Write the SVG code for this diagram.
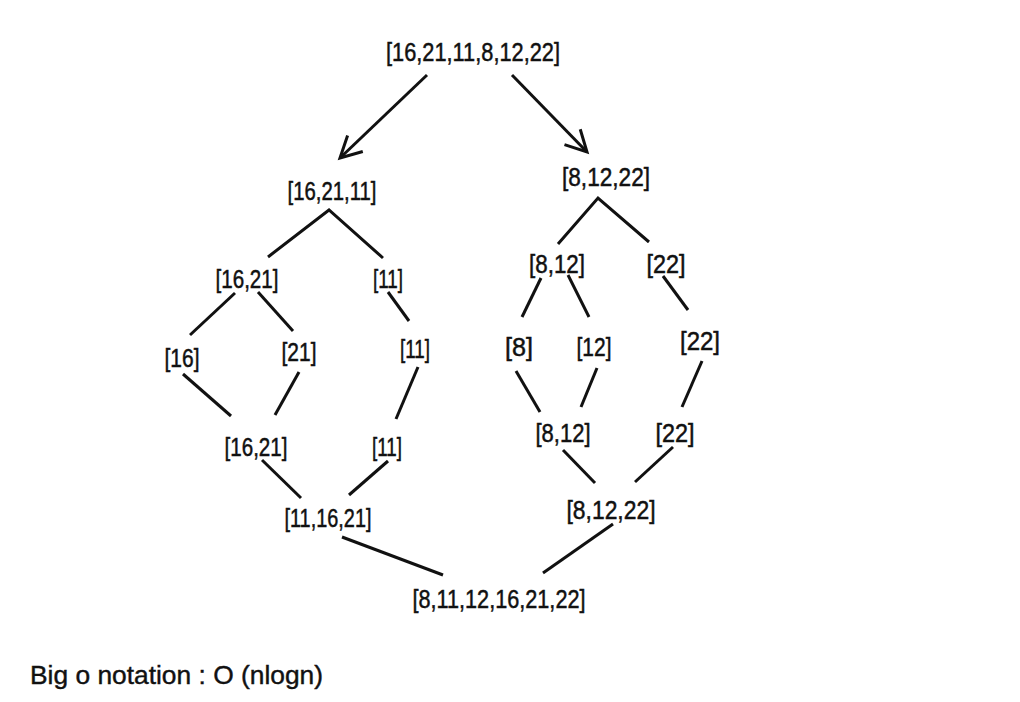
<svg xmlns="http://www.w3.org/2000/svg" width="1020" height="702" viewBox="0 0 1020 702">
<style>
  .lbl { font-family: "Liberation Sans", Arial, sans-serif; font-size: 26px; fill: #111; stroke: #111; stroke-width: 0.5; text-anchor: middle; }
  .note { font-family: "Liberation Sans", Arial, sans-serif; font-size: 25px; fill: #111; stroke: #111; stroke-width: 0.4; }
  .edge { stroke: #111; stroke-width: 3; fill: none; stroke-linecap: butt; }
</style>
<defs>
  <marker id="open" markerUnits="userSpaceOnUse" markerWidth="30" markerHeight="30" viewBox="-25 -15 30 30" refX="0" refY="0" orient="auto" overflow="visible">
    <path d="M -21,-11 L 0,0 L -21,11" fill="none" stroke="#111" stroke-width="3"/>
  </marker>
</defs>
<rect width="1020" height="702" fill="#fff"/>
<g id="connectors">
  <line class="edge" x1="427" y1="75" x2="340" y2="158" marker-end="url(#open)"/>
  <line class="edge" x1="512" y1="75" x2="587" y2="152" marker-end="url(#open)"/>
  <polyline class="edge" points="268,257 329,210 383,258"/>
  <polyline class="edge" points="558,244 598,198 649,242"/>
  <line class="edge" x1="235" y1="293" x2="190" y2="335"/>
  <line class="edge" x1="258" y1="292" x2="293" y2="331"/>
  <line class="edge" x1="388" y1="292" x2="409" y2="321"/>
  <line class="edge" x1="183" y1="374" x2="231" y2="416"/>
  <line class="edge" x1="299" y1="372" x2="275" y2="415"/>
  <line class="edge" x1="418" y1="367" x2="396" y2="419"/>
  <line class="edge" x1="262" y1="460" x2="301" y2="498"/>
  <line class="edge" x1="388" y1="461" x2="349" y2="495"/>
  <line class="edge" x1="541" y1="278" x2="522" y2="317"/>
  <line class="edge" x1="568" y1="275" x2="589" y2="317"/>
  <line class="edge" x1="663" y1="276" x2="688" y2="310"/>
  <line class="edge" x1="516" y1="371" x2="540" y2="412"/>
  <line class="edge" x1="597" y1="368" x2="581" y2="407"/>
  <line class="edge" x1="702" y1="361" x2="682" y2="407"/>
  <line class="edge" x1="563" y1="450" x2="595" y2="483"/>
  <line class="edge" x1="673" y1="447" x2="635" y2="482"/>
  <line class="edge" x1="342" y1="537" x2="443" y2="575"/>
  <line class="edge" x1="613" y1="524" x2="543" y2="573"/>
</g>
<g id="n-root"><text class="lbl" x="473" y="61" textLength="174" lengthAdjust="spacingAndGlyphs">[16,21,11,8,12,22]</text></g>
<g id="n-l"><text class="lbl" x="332" y="200" textLength="89" lengthAdjust="spacingAndGlyphs">[16,21,11]</text></g>
<g id="n-r"><text class="lbl" x="606" y="186" textLength="88" lengthAdjust="spacingAndGlyphs">[8,12,22]</text></g>
<g id="n-ll"><text class="lbl" x="247" y="288" textLength="63" lengthAdjust="spacingAndGlyphs">[16,21]</text></g>
<g id="n-lr"><text class="lbl" x="388" y="288" textLength="30" lengthAdjust="spacingAndGlyphs">[11]</text></g>
<g id="n-lll"><text class="lbl" x="182" y="367" textLength="35" lengthAdjust="spacingAndGlyphs">[16]</text></g>
<g id="n-llr"><text class="lbl" x="299" y="361" textLength="35" lengthAdjust="spacingAndGlyphs">[21]</text></g>
<g id="n-lrm"><text class="lbl" x="415" y="358" textLength="30" lengthAdjust="spacingAndGlyphs">[11]</text></g>
<g id="n-lm1"><text class="lbl" x="256" y="456" textLength="63" lengthAdjust="spacingAndGlyphs">[16,21]</text></g>
<g id="n-lm2"><text class="lbl" x="387" y="456" textLength="30" lengthAdjust="spacingAndGlyphs">[11]</text></g>
<g id="n-lm"><text class="lbl" x="328" y="527" textLength="87" lengthAdjust="spacingAndGlyphs">[11,16,21]</text></g>
<g id="n-rl"><text class="lbl" x="557" y="273" textLength="56" lengthAdjust="spacingAndGlyphs">[8,12]</text></g>
<g id="n-rr"><text class="lbl" x="666" y="273" textLength="39" lengthAdjust="spacingAndGlyphs">[22]</text></g>
<g id="n-rll"><text class="lbl" x="519" y="356" textLength="28" lengthAdjust="spacingAndGlyphs">[8]</text></g>
<g id="n-rlr"><text class="lbl" x="594" y="356" textLength="35" lengthAdjust="spacingAndGlyphs">[12]</text></g>
<g id="n-rrm"><text class="lbl" x="700" y="350" textLength="40" lengthAdjust="spacingAndGlyphs">[22]</text></g>
<g id="n-rm1"><text class="lbl" x="563" y="442" textLength="55" lengthAdjust="spacingAndGlyphs">[8,12]</text></g>
<g id="n-rm2"><text class="lbl" x="675" y="442" textLength="39" lengthAdjust="spacingAndGlyphs">[22]</text></g>
<g id="n-rm"><text class="lbl" x="611" y="519" textLength="89" lengthAdjust="spacingAndGlyphs">[8,12,22]</text></g>
<g id="n-final"><text class="lbl" x="499" y="608" textLength="173" lengthAdjust="spacingAndGlyphs">[8,11,12,16,21,22]</text></g>
<g id="note"><text class="note" x="30" y="684" textLength="293" lengthAdjust="spacingAndGlyphs">Big o notation : O (nlogn)</text></g>
</svg>
